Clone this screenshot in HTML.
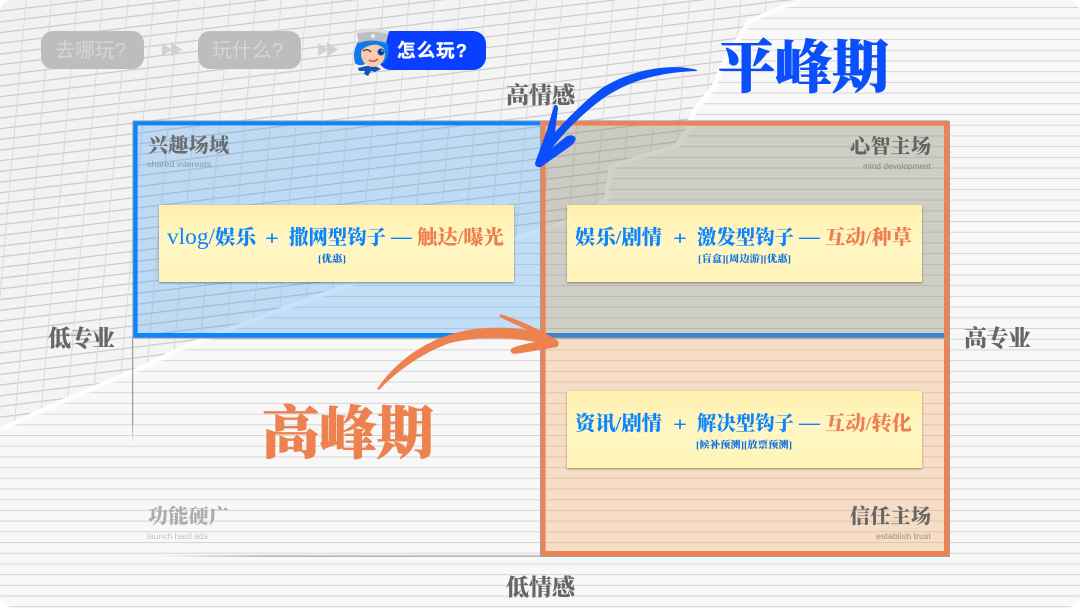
<!DOCTYPE html>
<html><head><meta charset="utf-8"><style>
html,body{margin:0;padding:0;width:1080px;height:608px;overflow:hidden;background:#fff}
svg{display:block}
.s{font-family:"Liberation Serif","Noto Serif CJK SC",serif;font-weight:900}
.n{font-family:"Liberation Sans","Noto Sans CJK SC",sans-serif}
</style></head><body>
<svg width="1080" height="608" viewBox="0 0 1080 608" xmlns="http://www.w3.org/2000/svg">
<defs>
<pattern id="lines" width="1080" height="10.7" patternUnits="userSpaceOnUse" y="7">
<rect width="1080" height="1" y="0" fill="#d6d6d6"/>
</pattern>
<pattern id="grid" width="26" height="10.6" patternUnits="userSpaceOnUse" patternTransform="rotate(-7) skewX(-12)">
<rect width="26" height="1.2" fill="#c9c9c9"/>
<rect width="1" height="10.6" fill="#dadada"/>
</pattern>
<linearGradient id="gbg" x1="0" y1="0" x2="1" y2="1">
<stop offset="0" stop-color="#f1f1f1"/><stop offset=".5" stop-color="#f4f4f4"/><stop offset="1" stop-color="#eeeeee"/>
</linearGradient>
<linearGradient id="card" x1="0" y1="0" x2="0" y2="1">
<stop offset="0" stop-color="#fff0ac"/><stop offset=".5" stop-color="#fff6c4"/><stop offset="1" stop-color="#fff3b6"/>
</linearGradient>
<linearGradient id="vf" x1="0" y1="0" x2="0" y2="1">
<stop offset="0" stop-color="#9a9a9a"/><stop offset=".8" stop-color="#9a9a9a"/><stop offset="1" stop-color="#9a9a9a" stop-opacity="0"/>
</linearGradient>
<linearGradient id="hf" x1="0" y1="0" x2="1" y2="0">
<stop offset="0" stop-color="#999" stop-opacity="0"/><stop offset=".3" stop-color="#a5a5a5"/><stop offset="1" stop-color="#aaa"/>
</linearGradient>
<filter id="soft"><feGaussianBlur stdDeviation=".3"/></filter>
<filter id="edge"><feGaussianBlur stdDeviation="1"/></filter>
</defs>

<rect width="1080" height="608" rx="14" fill="#f8f8f8"/>
<rect width="1080" height="608" rx="14" fill="url(#lines)" filter="url(#soft)"/>

<!-- grid torn paper -->
<path d="M0,0 L795,0 L775,8 L747,20 L735,40 L719,67 L712,85 L692,110 L688,120 L685,130 L674,145 L640,155 L609,165 L604,200 L560,222 L470,250 L380,272 L290,304 L190,342 L138,367 L60,400 L0,427 Z" fill="#fff" transform="translate(4,3)" filter="url(#edge)"/>
<path d="M14,0 L795,0 L775,8 L747,20 L735,40 L719,67 L712,85 L692,110 L688,120 L685,130 L674,145 L640,155 L609,165 L604,200 L560,222 L470,250 L380,272 L290,304 L190,342 L138,367 L60,400 L0,427 L0,14 Q0,0 14,0 Z" fill="url(#gbg)"/>
<path d="M14,0 L795,0 L775,8 L747,20 L735,40 L719,67 L712,85 L692,110 L688,120 L685,130 L674,145 L640,155 L609,165 L604,200 L560,222 L470,250 L380,272 L290,304 L190,342 L138,367 L60,400 L0,427 L0,14 Q0,0 14,0 Z" fill="url(#grid)" filter="url(#soft)"/>

<!-- axes -->
<rect x="132" y="338" width="1.2" height="105" fill="url(#vf)"/>
<rect x="160" y="555.4" width="382" height="1.4" fill="url(#hf)"/>

<!-- quadrants -->
<rect x="133" y="121" width="408" height="216" fill="#2f97f5" fill-opacity=".27"/>
<rect x="541" y="121" width="407" height="216" fill="#77775a" fill-opacity=".32"/>
<rect x="541" y="337" width="407" height="218" fill="#f5a050" fill-opacity=".3"/>
<!-- blue frame -->
<rect x="133" y="121" width="408" height="4.4" fill="#0a84ff"/>
<rect x="133" y="121" width="4.6" height="217" fill="#0a84ff"/>
<rect x="133" y="333" width="408" height="5" fill="#0a84ff"/>
<!-- orange frame -->
<rect x="541" y="121" width="408" height="4.6" fill="#ee8252"/>
<rect x="541" y="121" width="4.6" height="435" fill="#ee8252"/>
<rect x="944" y="121" width="5" height="435" fill="#ee8252"/>
<rect x="541" y="551" width="408" height="5" fill="#ee8252"/>
<rect x="545.6" y="333" width="398.4" height="5" fill="#3b84cc"/>
<!-- thin gray frame lines -->
<g fill="#a0a0a0">
<rect x="133" y="120.4" width="816" height="1"/>
<rect x="132.4" y="121" width="1" height="217"/>
<rect x="540" y="121" width="1.3" height="435"/>
<rect x="133" y="337.6" width="816" height="1"/>
<rect x="949" y="121" width="1" height="435"/>
<rect x="541" y="556" width="409" height="1"/>
</g>

<!-- cards -->
<g style="filter:drop-shadow(0 1.5px 1px rgba(0,0,0,.4))">
<rect x="159" y="205" width="355" height="77" fill="url(#card)"/>
<rect x="567" y="205" width="355" height="77" fill="url(#card)"/>
<rect x="567" y="391" width="355" height="77" fill="url(#card)"/>
</g>

<g class="s" font-size="20" fill="#0a84ff">
<text x="167" y="244" font-size="23" textLength="48" lengthAdjust="spacingAndGlyphs" style="font-weight:400">vlog/</text>
<text x="215" y="244" textLength="41" lengthAdjust="spacingAndGlyphs">娱乐</text>
<text x="265" y="245" textLength="14" lengthAdjust="spacingAndGlyphs">+</text>
<text x="289" y="244" textLength="97" lengthAdjust="spacingAndGlyphs">撒网型钩子</text>
<text x="391" y="243" textLength="21" lengthAdjust="spacingAndGlyphs">—</text>
<text x="417" y="244" textLength="87" lengthAdjust="spacingAndGlyphs" fill="#ee7d4f">触达/曝光</text>

<text x="575" y="244" textLength="87" lengthAdjust="spacingAndGlyphs">娱乐/剧情</text>
<text x="673" y="245" textLength="14" lengthAdjust="spacingAndGlyphs">+</text>
<text x="697" y="244" textLength="97" lengthAdjust="spacingAndGlyphs">激发型钩子</text>
<text x="799" y="243" textLength="21" lengthAdjust="spacingAndGlyphs">—</text>
<text x="825" y="244" textLength="87" lengthAdjust="spacingAndGlyphs" fill="#ee7d4f">互动/种草</text>

<text x="575" y="430" textLength="87" lengthAdjust="spacingAndGlyphs">资讯/剧情</text>
<text x="673" y="431" textLength="14" lengthAdjust="spacingAndGlyphs">+</text>
<text x="697" y="430" textLength="97" lengthAdjust="spacingAndGlyphs">解决型钩子</text>
<text x="799" y="429" textLength="21" lengthAdjust="spacingAndGlyphs">—</text>
<text x="825" y="430" textLength="87" lengthAdjust="spacingAndGlyphs" fill="#ee7d4f">互动/转化</text>
</g>
<g class="s" font-size="9.5" fill="#0a6fe0">
<text x="318" y="262" textLength="28" lengthAdjust="spacingAndGlyphs">[优惠]</text>
<text x="698" y="262" textLength="93" lengthAdjust="spacingAndGlyphs">[盲盒][周边游][优惠]</text>
<text x="696" y="448" textLength="96" lengthAdjust="spacingAndGlyphs">[候补预测][放票预测]</text>
</g>

<!-- quadrant titles -->
<g class="s" font-size="20">
<text x="148" y="152" textLength="81" fill="#6c6c6c">兴趣场域</text>
<text x="850" y="153" textLength="81" fill="#636363">心智主场</text>
<text x="148" y="523" textLength="81" fill="#acacac">功能硬广</text>
<text x="850" y="523" textLength="81" fill="#666">信任主场</text>
</g>
<g class="n" font-size="8.5">
<text x="147" y="167" textLength="64" lengthAdjust="spacingAndGlyphs" fill="#8f949a">shared interests</text>
<text x="863" y="169" textLength="68" lengthAdjust="spacingAndGlyphs" fill="#85857c">mind development</text>
<text x="147" y="539" textLength="61" lengthAdjust="spacingAndGlyphs" fill="#c2c2c2">launch hard ads</text>
<text x="876" y="539" textLength="55" lengthAdjust="spacingAndGlyphs" fill="#9a8f85">establish trust</text>
</g>

<!-- axis labels -->
<g class="s" font-size="23" fill="#666">
<text x="506" y="103" textLength="69">高情感</text>
<text x="506" y="595" textLength="69">低情感</text>
<text x="48" y="346" textLength="67">低专业</text>
<text x="964" y="346" textLength="67">高专业</text>
</g>

<!-- big labels -->
<text class="s" x="718" y="87" font-size="57" textLength="171" lengthAdjust="spacingAndGlyphs" fill="#0a4ffa" stroke="#0a4ffa" stroke-width=".8">平峰期</text>
<text class="s" x="262" y="453" font-size="57" textLength="172" lengthAdjust="spacingAndGlyphs" fill="#ee824f" stroke="#ee824f" stroke-width=".8">高峰期</text>

<!-- blue arrow -->
<path d="M697,70 C672,63 632,69 602,88 C588,98 572,114 555,132 L558,108 Q557,103 554,106 L547,130 L535,163 Q535,168 541,167 L572,145 Q577,140 575,137 Q572,134 567,136 L552,148 C562,135 578,118 597,103 C625,81 660,72 697,71 Z" fill="#0a4ffa"/>

<!-- orange arrow -->
<path d="M377,389 C400,355 440,330 487,328 C500,327 515,328 527,330 C518,325 507,321 500,317 Q499,313 503,315 C520,320 545,332 558,341 Q560,344 557,347 C545,349 530,352 514,354 Q509,352 511,349 Q514,346 535,342 C510,337 480,336 450,343 C425,352 400,368 379,390 Z" fill="#ee824f"/>

<!-- nav -->
<rect x="41" y="31" width="103" height="38" rx="12" fill="#bdbdbd"/>
<rect x="198" y="31" width="103" height="38" rx="12" fill="#bdbdbd"/>
<g class="n" font-size="20" fill="#d5d5d5">
<text x="55" y="57">去哪玩?</text>
<text x="212" y="57">玩什么?</text>
</g>
<g fill="#d2d2d2">
<path d="M162,43 L172,49.5 L162,56 Z"/><path d="M171,42 L182,49.5 L171,57 Z"/>
<path d="M318,43 L328,49.5 L318,56 Z"/><path d="M327,42 L338,49.5 L327,57 Z"/>
</g>
<rect x="378" y="31" width="108" height="39" rx="13" fill="#0a3fff"/>
<text class="n" x="397" y="57" font-size="18.5" font-weight="700" fill="#fff" stroke="#fff" stroke-width=".3" textLength="70">怎么玩?</text>

<!-- avatar -->
<path d="M358,68 L366,66 L375,66 L381,69 L375,72 L371,71 L368,76 L364,74 L365,71 L359,71 Z" fill="#1257b8"/>
<path d="M358,42 Q352,52 355,63 Q360,67 365,64 L382,64 Q390,60 388,44 L380,38 L364,38 Z" fill="#0f7ae8"/>
<ellipse cx="373" cy="54" rx="12" ry="13" fill="#f8cbb0"/>
<path d="M360,52 Q363,41 374,41 Q384,41 387,52 Q380,43 372,45 Q365,46 360,52 Z" fill="#0f7ae8"/>
<path d="M356,30 Q372,27 389,31 L386,43 Q372,38 359,43 Z" fill="#bcc0c4"/>
<path d="M356,30 Q372,27 389,31 L388,34 Q372,30 357,34 Z" fill="#dcdee0"/>
<circle cx="373" cy="36" r="2" fill="#eee"/>
<circle cx="381" cy="52" r="3.6" fill="#1552b8"/><circle cx="381" cy="52" r="1.6" fill="#0b2150"/><circle cx="382" cy="51" r=".8" fill="#fff"/>
<path d="M363,51 Q367,48 371,52" stroke="#5a3a30" stroke-width="1.3" fill="none"/>
<path d="M369,60 Q373,63 378,59" stroke="#c6553f" stroke-width="1.5" fill="none"/>
</svg>
</body></html>
